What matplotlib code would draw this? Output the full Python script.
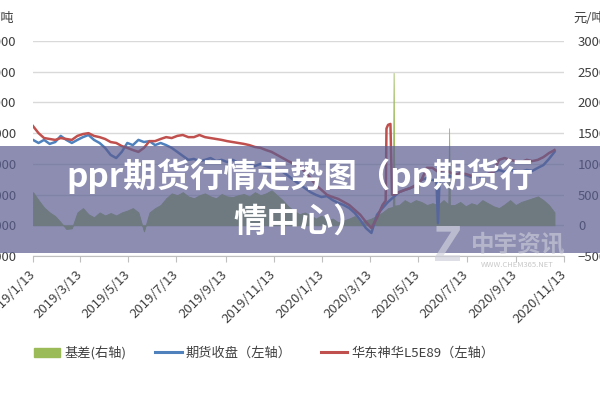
import matplotlib.pyplot as plt
from matplotlib.patches import Rectangle, Patch
from matplotlib.lines import Line2D
import pandas as pd

plt.rcParams['font.family'] = ['Noto Sans CJK SC', 'DejaVu Sans']

# weekly samples
week_dates = pd.date_range('2019-01-13', periods=95, freq='7D')

spot = [9230, 9000, 8840, 8810, 8780, 8840, 8810, 8780, 8910, 8970,
        9000, 8910, 8870, 8810, 8710, 8680, 8580, 8520, 8450, 8390,
        8520, 8740, 8740, 8810, 8870, 8840, 8910, 8940, 8870, 8870,
        8940, 8870, 8840, 8810, 8780, 8740, 8710, 8680, 8650, 8610,
        8550, 8520, 8450, 8390, 8290, 8190, 8090, 8000, 7930, 7740,
        7540, 7310, 7150, 6990, 6920, 6860, 6760, 6660, 6500, 6340,
        6110, 5910, 6240, 6660, 9270, 6990, 7080, 7150, 7210, 7310,
        7470, 7870, 7870, 7740, 7800, 7740, 7640, 7700, 7670, 7610,
        7640, 7610, 7670, 7740, 8130, 8190, 8130, 8090, 8060, 8130,
        8090, 8130, 8220, 8350, 8450]

futures = [8780, 8680, 8780, 8650, 8710, 8910, 8780, 8680, 8780, 8870,
           8940, 8780, 8680, 8520, 8290, 8190, 8390, 8680, 8610, 8780,
           8710, 8740, 8610, 8680, 8610, 8520, 8390, 8260, 8130, 8160,
           8090, 8130, 8190, 8090, 8130, 8060, 8130, 8030, 8060, 7960,
           7930, 8000, 7930, 7870, 7800, 7740, 7610, 7470, 7340, 7210,
           7080, 6990, 6920, 6950, 6820, 6730, 6660, 6560, 6400, 6170,
           5910, 5750, 6340, 6560, 6760, 6920, 7080, 7150, 7210, 7280,
           7470, 7540, 7470, 6070, 7470, 7610, 7540, 7610, 7640, 7570,
           7640, 7540, 7670, 7740, 7800, 7740, 7800, 7770, 7740, 7800,
           7770, 7870, 7960, 8160, 8390]

basis = [540, 410, 290, 210, 150, 50, -60, -50, 210, 280,
         180, 130, 210, 160, 200, 160, 210, 240, 280, 210,
         -100, 210, 280, 330, 440, 520, 490, 540, 470, 440,
         490, 520, 470, 440, 510, 470, 460, 490, 510, 470,
         540, 490, 520, 570, 490, 410, 310, 240, 180, 210,
         160, 110, 160, 80, 110, 50, 80, 110, 150, 50,
         80, 110, 160, 210, 280, 2480, 330, 410, 360, 410,
         380, 330, 360, 330, 410, 1580, 330, 380, 310, 360,
         330, 410, 360, 310, 280, 340, 410, 330, 380, 410,
         440, 470, 410, 330, 210]

# extra daily points around the sharp spikes
spot_extra_dates = ['2020-04-02', '2020-04-03', '2020-04-08', '2020-04-10']
spot_extra = [6800, 9150, 9300, 7000]
futures_extra_dates = ['2020-06-05', '2020-06-09']
futures_extra = [7480, 7500]
basis_extra_dates = ['2020-04-11', '2020-04-13', '2020-06-20', '2020-06-22']
basis_extra = [300, 320, 340, 330]

tick_dates = pd.to_datetime(['2019-01-13', '2019-03-13', '2019-05-13', '2019-07-13',
                             '2019-09-13', '2019-11-13', '2020-01-13', '2020-03-13',
                             '2020-05-13', '2020-07-13', '2020-09-13', '2020-11-13'])
tick_labels = ['2019/1/13', '2019/3/13', '2019/5/13', '2019/7/13', '2019/9/13',
               '2019/11/13', '2020/1/13', '2020/3/13', '2020/5/13', '2020/7/13',
               '2020/9/13', '2020/11/13']
left_ticks = [5000, 6000, 7000, 8000, 9000, 10000, 11000, 12000]
right_ticks = [-500, 0, 500, 1000, 1500, 2000, 2500, 3000]


def with_extras(values, extra_dates, extra_values):
    s = pd.Series(values, index=week_dates)
    e = pd.Series(extra_values, index=pd.to_datetime(extra_dates))
    return pd.concat([s, e]).sort_index()


green = '#9BBB59'
blue = '#4F81BD'
red = '#C0504D'
label_color = '#404040'

fig = plt.figure(figsize=(6, 4), dpi=100)
ax = fig.add_axes([33 / 600, 1 - 256 / 400, (564 - 33) / 600, (256 - 41) / 400])
ax2 = ax.twinx()
ax.set_zorder(ax2.get_zorder() + 1)
ax.patch.set_visible(False)

b = with_extras(basis, basis_extra_dates, basis_extra)
ax2.fill_between(b.index, 0, b.values, color=green, lw=0.6)

s = with_extras(spot, spot_extra_dates, spot_extra)
f = with_extras(futures, futures_extra_dates, futures_extra)
ax.plot(f.index, f.values, color=blue, lw=1.8)
ax.plot(s.index, s.values, color=red, lw=1.8)

ax.set_xlim(tick_dates[0], tick_dates[-1])
ax.set_ylim(5000, 12000)
ax2.set_ylim(-500, 3000)
ax.set_yticks(left_ticks)
ax2.set_yticks(right_ticks)
ax2.grid(axis='y', color='#D9D9D9', lw=1)
ax2.set_axisbelow(True)

ax.set_xticks(tick_dates)
ax.set_xticklabels(tick_labels, rotation=45, ha='right', va='center',
                   rotation_mode='anchor')
ax.tick_params(axis='x', length=4, color='#BFBFBF', labelsize=9.5,
               labelcolor=label_color, pad=8)
ax.tick_params(axis='y', length=0, labelsize=9.5, labelcolor=label_color, pad=12)
ax2.tick_params(axis='y', length=0, labelsize=9.5, labelcolor=label_color, pad=10)

for a in (ax, ax2):
    for side in ('top', 'left', 'right', 'bottom'):
        a.spines[side].set_visible(False)
ax.spines['bottom'].set_visible(True)
ax.spines['bottom'].set_color('#BFBFBF')

fig.text(14 / 600, 1 - 19 / 400, '元/吨', ha='right', va='center',
         fontsize=9.5, color=label_color)
fig.text(573 / 600, 1 - 19 / 400, '元/吨', ha='left', va='center',
         fontsize=9.5, color=label_color)

handles = [Patch(color=green),
           Line2D([], [], color=blue, lw=2.2),
           Line2D([], [], color=red, lw=2.2)]
labels = ['基差(右轴)', '期货收盘（左轴）', '华东神华L5E89（左轴）']
fig.legend(handles, labels, loc='center', bbox_to_anchor=(264 / 600, 1 - 353 / 400),
           ncol=3, frameon=False, fontsize=9.5, handlelength=2.0,
           handletextpad=0.3, columnspacing=2.2, labelcolor=label_color)

# watermark
fig.text(447 / 600, 1 - 247 / 400, 'Z', fontsize=34, fontweight='bold',
         style='italic', color='#d0d0dc', alpha=0.7, ha='center', va='center',
         zorder=12)
fig.text(518 / 600, 1 - 244 / 400, '中宇资讯', fontsize=17, fontweight='bold',
         color='#d0d0dc', alpha=0.6, ha='center', va='center', zorder=12)
fig.text(517 / 600, 1 - 265 / 400, 'WWW.CHEM365.NET', fontsize=5.5,
         color='#c8c8c8', ha='center', va='center', zorder=12)

# title banner
fig.add_artist(Rectangle((0, 1 - 253 / 400), 1, (253 - 146) / 400,
                         transform=fig.transFigure, color=(91 / 255, 93 / 255, 145 / 255),
                         alpha=0.7, lw=0, zorder=10))
fig.text(0.5, 1 - 176 / 400, 'ppr期货行情走势图（pp期货行', color='white',
         fontsize=24, fontweight='bold', ha='center', va='center', zorder=11)
fig.text(0.5, 1 - 222 / 400, '情中心）', color='white',
         fontsize=24, fontweight='bold', ha='center', va='center', zorder=11)

fig.savefig('out.png', dpi=100)
